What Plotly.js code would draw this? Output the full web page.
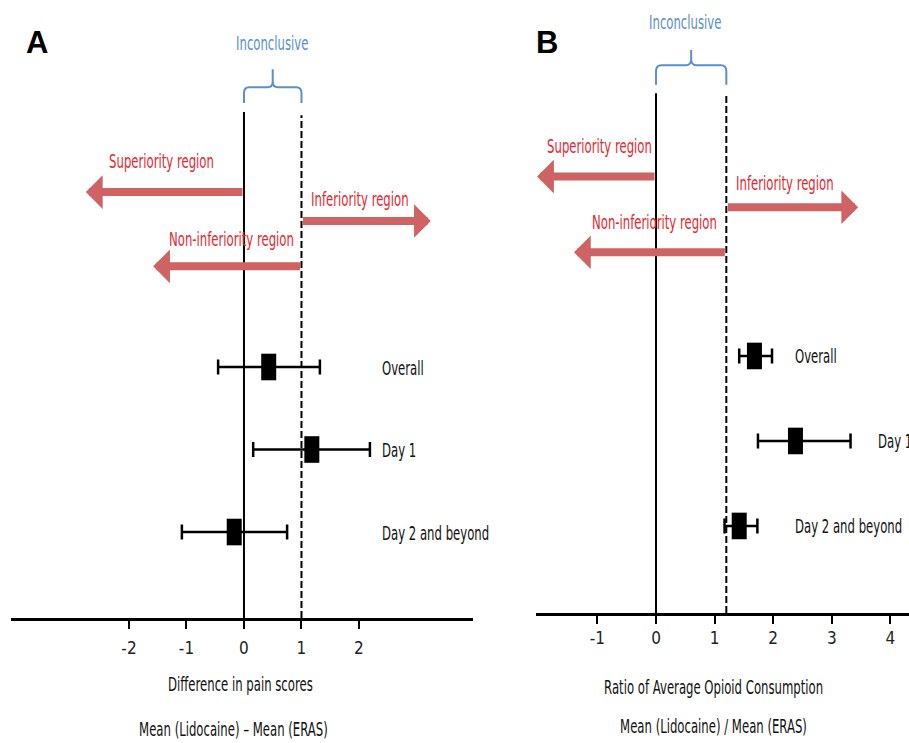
<!DOCTYPE html>
<html>
<head>
<meta charset="utf-8">
<script src="https://cdn.plot.ly/plotly-3.0.1.min.js"></script>
<style>
html,body{margin:0;padding:0;overflow:hidden;background:#fff;}
#chart{width:960px;height:743px;}
</style>
</head>
<body>
<div id="chart"></div>
<script>
// ---- data ----
const categories = ["Overall", "Day 1", "Day 2 and beyond"];
const rowPos = [3, 2, 1];
// Panel A: difference in pain scores
const painEst = [0.43, 1.18, -0.17];
const painLo  = [-0.45, 0.16, -1.08];
const painHi  = [1.32, 2.19, 0.75];
const painTicks = [-2, -1, 0, 1, 2];
const painMargin = 1;
// Panel B: ratio of average opioid consumption
const opioidEst = [1.68, 2.38, 1.42];
const opioidLo  = [1.42, 1.74, 1.17];
const opioidHi  = [1.98, 3.32, 1.73];
const opioidTicks = [-1, 0, 1, 2, 3, 4];
const opioidMargin = 1.2;
// region arrows: [superiority tip, inferiority tip, non-inferiority tip]
const painArrowTips = [-2.75, 3.25, -1.58];
const opioidArrowTips = [-2.03, 3.45, -1.40];
const regionLabels = ["Superiority region", "Inferiority region", "Non-inferiority region"];

const FONT = "'DejaVu Sans Condensed', 'Liberation Sans Narrow', sans-serif";
const TS = 13;   // text size (vertically stretched afterwards)
const RED = "#e8262e";
const ARROW = "#cf6262";
const BLUE = "#5b8fcd";

function errTrace(est, lo, hi, xa, ya) {
  return {
    type: "scatter", mode: "markers", x: est, y: rowPos, xaxis: xa, yaxis: ya,
    text: categories, hoverinfo: "x+text",
    marker: {symbol: "line-ns-open", size: 19, color: "#000", line: {color: "#000", width: 15}},
    error_x: {type: "data", symmetric: false,
      array: hi.map((h, i) => h - est[i]),
      arrayminus: lo.map((l, i) => est[i] - l),
      color: "#000", thickness: 2.5, width: 7.5},
    showlegend: false, cliponaxis: false
  };
}

function bracePath(x0, x1, yb, yt, ytip, rx, ry) {
  const xm = (x0 + x1) / 2;
  return `M${x0},${yb} L${x0},${yt - ry} Q${x0},${yt} ${x0 + rx},${yt} L${xm - rx},${yt} Q${xm},${yt} ${xm},${yt + ry} L${xm},${ytip} ` +
         `M${xm},${yt + ry} Q${xm},${yt} ${xm + rx},${yt} L${x1 - rx},${yt} Q${x1},${yt} ${x1},${yt - ry} L${x1},${yb}`;
}

function panelDecor(xa, ya, margin, tips, yRange, cfg) {
  const shapes = [];
  const ann = [];
  shapes.push({type: "line", xref: xa, yref: ya, x0: 0, x1: 0, y0: yRange[0], y1: cfg.solidTop, line: {color: "#000", width: 2}});
  shapes.push({type: "line", xref: xa, yref: ya, x0: margin, x1: margin, y0: yRange[0], y1: cfg.dashTop, line: {color: "#000", width: 2, dash: "7px,3px"}});
  shapes.push({type: "path", xref: xa, yref: ya, path: bracePath(0, margin, cfg.braceB, cfg.braceT, cfg.braceTip, cfg.rx, cfg.ry), line: {color: BLUE, width: 2}});
  ann.push({xref: xa, yref: ya, x: cfg.inclX, y: cfg.inclY, text: "Inconclusive", showarrow: false, xanchor: "center", font: {family: FONT, size: TS, color: BLUE}});
  const starts = [0, margin, margin];
  for (let i = 0; i < 3; i++) {
    ann.push({xref: xa, yref: ya, axref: xa, ayref: ya, x: tips[i], y: cfg.arrowY[i], ax: starts[i], ay: cfg.arrowY[i],
      text: "", showarrow: true, arrowhead: 1, arrowsize: 0.7, arrowwidth: 8, arrowcolor: ARROW, standoff: 0, startstandoff: 0});
    ann.push({xref: xa, yref: ya, x: cfg.labelX[i], y: cfg.labelY[i], text: regionLabels[i], showarrow: false, xanchor: "center",
      font: {family: FONT, size: TS, color: RED}});
  }
  return {shapes, ann};
}

const yRangeA = [-0.042, 7.448];
const yRangeB = [-0.024, 7.188];

const decA = panelDecor("x", "y", painMargin, painArrowTips, yRangeA, {
  solidTop: 6.09, dashTop: 6.05, braceB: 6.20, braceT: 6.39, braceTip: 6.61, rx: 0.09, ry: 0.07, inclX: 0.49, inclY: 6.93,
  arrowY: [5.12, 4.77, 4.22], labelX: [-1.43, 2.02, -0.21], labelY: [5.50, 5.04, 4.56]
});
const decB = panelDecor("x2", "y2", opioidMargin, opioidArrowTips, yRangeB, {
  solidTop: 6.09, dashTop: 6.07, braceB: 6.19, braceT: 6.42, braceTip: 6.60, rx: 0.09, ry: 0.07, inclX: 0.5, inclY: 6.93,
  arrowY: [5.11, 4.75, 4.22], labelX: [-0.97, 2.20, -0.03], labelY: [5.48, 5.04, 4.58]
});

const rowLabelsA = categories.map((c, i) => ({xref: "x", yref: "y", x: 2.37, y: rowPos[i], text: c, xanchor: "left", showarrow: false, font: {family: FONT, size: TS, color: "#111"}}));
const rowLabelXB = [2.34, 3.76, 2.34];
const rowLabelsB = categories.map((c, i) => ({xref: "x2", yref: "y2", x: rowLabelXB[i], y: rowPos[i], text: c, xanchor: "left", showarrow: false, font: {family: FONT, size: TS, color: "#111"}}));

const titles = [
  {xref: "paper", yref: "paper", x: 240 / 960, y: 1 - 683 / 743, text: "Difference in pain scores", xanchor: "center", yanchor: "middle", showarrow: false, font: {family: FONT, size: TS, color: "#111"}},
  {xref: "paper", yref: "paper", x: 233 / 960, y: 1 - 728 / 743, text: "Mean (Lidocaine) – Mean (ERAS)", xanchor: "center", yanchor: "middle", showarrow: false, font: {family: FONT, size: TS, color: "#111"}},
  {xref: "paper", yref: "paper", x: 713 / 960, y: 1 - 686 / 743, text: "Ratio of Average Opioid Consumption", xanchor: "center", yanchor: "middle", showarrow: false, font: {family: FONT, size: TS, color: "#111"}},
  {xref: "paper", yref: "paper", x: 713 / 960, y: 1 - 725 / 743, text: "Mean (Lidocaine) / Mean (ERAS)", xanchor: "center", yanchor: "middle", showarrow: false, font: {family: FONT, size: TS, color: "#111"}},
  {xref: "paper", yref: "paper", x: 37 / 960, y: 1 - 43 / 743, text: "<b>A</b>", xanchor: "center", yanchor: "middle", showarrow: false, font: {family: "Liberation Sans, Arial, sans-serif", size: 31, color: "#000"}},
  {xref: "paper", yref: "paper", x: 547 / 960, y: 1 - 43 / 743, text: "<b>B</b>", xanchor: "center", yanchor: "middle", showarrow: false, font: {family: "Liberation Sans, Arial, sans-serif", size: 31, color: "#000"}}
];

const xCommon = {showgrid: false, zeroline: false, showline: true, linewidth: 2.5, linecolor: "#000",
  ticks: "outside", ticklen: 8, tickwidth: 2, tickcolor: "#000", tickmode: "array",
  tickfont: {family: FONT, size: 17, color: "#222"}, fixedrange: true};

const layout = {
  width: 960, height: 743,
  margin: {l: 0, r: 0, t: 0, b: 0},
  paper_bgcolor: "#fff", plot_bgcolor: "rgba(0,0,0,0)",
  showlegend: false,
  xaxis: Object.assign({}, xCommon, {domain: [11 / 960, 473 / 960], range: [-4.052, 3.983], tickvals: painTicks, ticktext: painTicks.map(String), anchor: "y", ticklabelstandoff: 5}),
  yaxis: {domain: [1 - 618 / 743, 1], range: yRangeA, visible: false, fixedrange: true, anchor: "x"},
  xaxis2: Object.assign({}, xCommon, {domain: [536 / 960, 1], range: [-2.048, 5.188], tickvals: opioidTicks, ticktext: opioidTicks.map(String), anchor: "y2", ticklabelstandoff: 0}),
  yaxis2: {domain: [1 - 613 / 743, 1], range: yRangeB, visible: false, fixedrange: true, anchor: "x2"},
  shapes: decA.shapes.concat(decB.shapes),
  annotations: decA.ann.concat(decB.ann, rowLabelsA, rowLabelsB, titles)
};

const data = [
  errTrace(painEst, painLo, painHi, "x", "y"),
  errTrace(opioidEst, opioidLo, opioidHi, "x2", "y2")
];

Plotly.newPlot("chart", data, layout, {displayModeBar: false, staticPlot: true}).then(function () {
  // the reference lettering is tall and narrow: stretch the annotation texts vertically
  document.querySelectorAll("#chart .annotation-text").forEach(function (t) {
    const s = t.textContent.trim();
    if (s === "A" || s === "B" || s === "") return;
    t.style.transformBox = "fill-box";
    t.style.transformOrigin = "50% 50%";
    t.style.transform = "scaleY(1.55)";
  });
});
</script>
</body>
</html>
